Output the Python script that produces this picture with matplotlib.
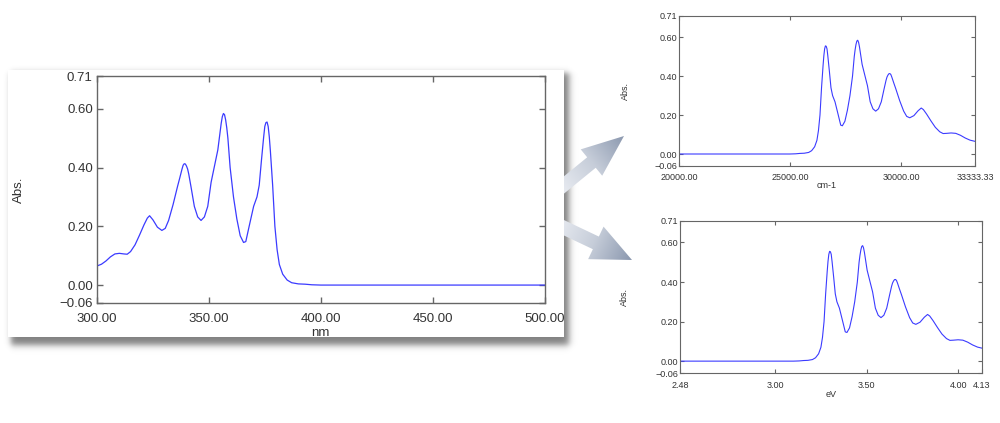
import numpy as np
import matplotlib.pyplot as plt
from matplotlib.patches import Polygon, Rectangle
from matplotlib.colors import LinearSegmentedColormap

plt.rcParams['font.family'] = ['Liberation Sans', 'DejaVu Sans']

wavelength_nm = [300, 302, 304, 306, 308, 310, 312, 313.5, 315, 317, 319, 321, 322.5, 323.5,
                 325, 327, 329, 330.5, 332, 334, 336, 337, 338, 338.5, 339, 339.5, 340, 340.5,
                 341, 342, 343.5, 345, 346.5, 348, 349.5, 351, 352.5, 354, 355, 355.5, 356,
                 356.5, 357, 357.5, 358, 358.5, 359.5, 361, 362.5, 364, 365.5, 366.5, 368, 370,
                 371.5, 372.5, 373.5, 374.5, 375, 375.5, 376, 376.5, 377, 377.5, 378.5, 379.5,
                 380.5, 381.5, 383, 385, 387, 390, 393, 396, 400, 500]
absorbance = [0.065, 0.071, 0.082, 0.096, 0.106, 0.108, 0.106, 0.105, 0.114, 0.137, 0.170,
              0.205, 0.228, 0.236, 0.222, 0.197, 0.186, 0.193, 0.220, 0.274, 0.336, 0.365,
              0.395, 0.408, 0.413, 0.412, 0.405, 0.395, 0.378, 0.335, 0.268, 0.232, 0.220,
              0.232, 0.268, 0.350, 0.405, 0.460, 0.520, 0.550, 0.573, 0.584, 0.580, 0.562,
              0.535, 0.500, 0.400, 0.300, 0.225, 0.168, 0.145, 0.148, 0.200, 0.268, 0.300,
              0.340, 0.425, 0.505, 0.540, 0.553, 0.555, 0.540, 0.505, 0.455, 0.340, 0.200,
              0.120, 0.070, 0.037, 0.017, 0.008, 0.004, 0.003, 0.001, 0.0, 0.0]

# same spectrum on the other two x scales
wavenumber_cm = [1e7 / w for w in wavelength_nm]
energy_ev = [1239.84 / w for w in wavelength_nm]

abs_ticks = [-0.06, 0.0, 0.2, 0.4, 0.6, 0.71]
abs_labels = ['\u22120.06', '0.00', '0.20', '0.40', '0.60', '0.71']
nm_ticks = [300, 350, 400, 450, 500]
nm_labels = ['300.00', '350.00', '400.00', '450.00', '500.00']
cm_ticks = [20000, 25000, 30000, 33333.33]
cm_labels = ['20000.00', '25000.00', '30000.00', '33333.33']
ev_ticks = [2.48, 3.0, 3.5, 4.0, 4.13]
ev_labels = ['2.48', '3.00', '3.50', '4.00', '4.13']

line_c = '#3b3bff'
spine_c = '#666666'
text_c = '#333333'

fig = plt.figure(figsize=(10, 4.23), dpi=100)

# background layer in pixel coords: shadowed box + arrows
bg = fig.add_axes([0, 0, 1, 1], zorder=0)
bg.axis('off')

gx, gy = np.meshgrid(np.arange(1000) + 0.5, np.arange(423) + 0.5)
def soft(v, w):
    return 0.5 * (1 + np.tanh(v / w))
shadow = soft(gx - 11, 3.5) * soft(569 - gx, 4) * soft(gy - 73, 3.5) * soft(345 - gy, 4)
rgba = np.zeros((423, 1000, 4))
rgba[..., 3] = 0.5 * shadow
bg.imshow(rgba, extent=(0, 1000, 423, 0), aspect='auto', interpolation='bilinear')
bg.add_patch(Rectangle((8, 70), 556, 267, facecolor='white', edgecolor='none'))

arrow_cmap = LinearSegmentedColormap.from_list('arr', ['#e8ebf1', '#c6cdd9', '#8a97ae'])

def grad_arrow(tail, tip, shaft_w, head_w, head_len):
    tail, tip = np.array(tail, float), np.array(tip, float)
    d = tip - tail
    L = np.hypot(*d)
    u = d / L
    n = np.array([-u[1], u[0]])
    base = tip - u * head_len
    pts = np.array([tail + n * shaft_w / 2, base + n * shaft_w / 2, base + n * head_w / 2, tip,
                    base - n * head_w / 2, base - n * shaft_w / 2, tail - n * shaft_w / 2])
    poly = Polygon(pts, closed=True, facecolor='none', edgecolor='none')
    bg.add_patch(poly)
    x0, x1 = pts[:, 0].min(), pts[:, 0].max()
    y0, y1 = pts[:, 1].min(), pts[:, 1].max()
    ax_, ay_ = np.meshgrid(np.linspace(x0, x1, 200), np.linspace(y0, y1, 200))
    t = ((ax_ - tail[0]) * u[0] + (ay_ - tail[1]) * u[1]) / L
    im = bg.imshow(t, extent=(x0, x1, y1, y0), origin='upper', cmap=arrow_cmap,
                   vmin=0, vmax=1, aspect='auto', interpolation='bilinear')
    im.set_clip_path(poly)

grad_arrow((559, 189), (624, 136), 13.5, 34, 42)
grad_arrow((556, 224), (632, 260), 14, 36, 40)
bg.set_xlim(0, 1000)
bg.set_ylim(423, 0)


def style(ax, xt, xl, fs, lw, tlen, xpad, ypad):
    ax.set_ylim(-0.06, 0.71)
    ax.set_xticks(xt, xl)
    ax.set_yticks(abs_ticks, abs_labels)
    ax.tick_params(direction='in', top=True, right=True, length=tlen, width=lw,
                   color=spine_c, labelsize=fs, labelcolor=text_c)
    ax.tick_params(axis='x', pad=xpad)
    ax.tick_params(axis='y', pad=ypad)
    for s in ax.spines.values():
        s.set_color(spine_c)
        s.set_linewidth(lw)


# main panel (nm)
ax = fig.add_axes([0.097, 0.2844, 0.4475, 0.5348], zorder=2)
ax.plot(wavelength_nm, absorbance, color=line_c, lw=0.9)
ax.set_xlim(300, 500)
style(ax, nm_ticks, nm_labels, 9.5, 1.0, 4.5, 7.2, 3)
ax.text(0.5, -0.134, 'nm', transform=ax.transAxes, ha='center', va='center', fontsize=9.5, color=text_c)
ax.text(-0.175, 0.5, 'Abs.', transform=ax.transAxes, ha='center', va='center', rotation=90,
        fontsize=9.5, color=text_c)

# top right (cm-1)
ax2 = fig.add_axes([0.679, 0.6083, 0.296, 0.3546], zorder=2)
ax2.plot(wavenumber_cm, absorbance, color=line_c, lw=0.8)
ax2.set_xlim(20000, 33333.33)
style(ax2, cm_ticks, cm_labels, 6.5, 0.8, 3, 5.5, 1.5)
ax2.text(0.5, -0.129, 'cm-1', transform=ax2.transAxes, ha='center', va='center', fontsize=6.5, color=text_c)
ax2.text(-0.182, 0.5, 'Abs.', transform=ax2.transAxes, ha='center', va='center', rotation=90,
         fontsize=6.5, color=text_c)

# bottom right (eV)
ax3 = fig.add_axes([0.680, 0.1182, 0.302, 0.360], zorder=2)
ax3.plot(energy_ev, absorbance, color=line_c, lw=0.8)
ax3.set_xlim(2.48, 4.13)
style(ax3, ev_ticks, ev_labels, 6.5, 0.8, 3, 5.5, 1.5)
ax3.text(0.5, -0.138, 'eV', transform=ax3.transAxes, ha='center', va='center', fontsize=6.5, color=text_c)
ax3.text(-0.185, 0.5, 'Abs.', transform=ax3.transAxes, ha='center', va='center', rotation=90,
         fontsize=6.5, color=text_c)

fig.savefig('out.png', dpi=100)
